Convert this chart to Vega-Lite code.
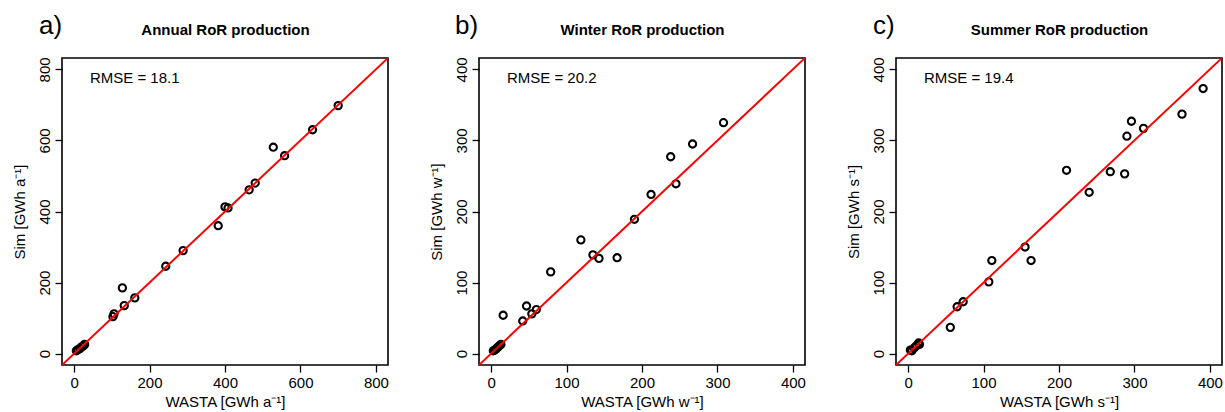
{
  "$schema": "https://vega.github.io/schema/vega-lite/v6.json",
  "background": "white",
  "padding": {"left": 11, "top": 12, "right": 0, "bottom": 0},
  "spacing": 38,
  "config": {
    "font": "Liberation Sans",
    "view": {"stroke": "black", "strokeWidth": 1.6},
    "axis": {"labelFont": "Liberation Sans", "titleFont": "Liberation Sans", "labelFontSize": 15, "titleFontSize": 15, "titleFontWeight": "normal", "labelColor": "black", "titleColor": "black", "tickColor": "black", "tickSize": 7, "tickWidth": 1.3, "domain": false, "grid": false, "labelPadding": 3},
    "axisBottom": {"titlePadding": 4},
    "axisLeft": {"labelAngle": -90, "titlePadding": 10},
    "title": {"font": "Liberation Sans", "color": "black"}
  },
  "hconcat": [
    {
      "width": 326, "height": 307,
      "title": {"text": "a)", "anchor": "start", "frame": "bounds", "fontSize": 26, "fontWeight": "normal", "dx": 27, "dy": 21},
      "resolve": {"axis": {"x": "independent", "y": "independent"}},
      "layer": [
        {
          "data": {"values": [
            {"wasta": 6, "sim": 8}, {"wasta": 10, "sim": 11}, {"wasta": 15, "sim": 14}, {"wasta": 20, "sim": 19}, {"wasta": 25, "sim": 22}, {"wasta": 28, "sim": 26},
            {"wasta": 103, "sim": 104}, {"wasta": 106, "sim": 112}, {"wasta": 128, "sim": 185}, {"wasta": 133, "sim": 135}, {"wasta": 161, "sim": 157},
            {"wasta": 243, "sim": 246}, {"wasta": 289, "sim": 290}, {"wasta": 382, "sim": 360}, {"wasta": 400, "sim": 413}, {"wasta": 408, "sim": 410},
            {"wasta": 464, "sim": 461}, {"wasta": 480, "sim": 480}, {"wasta": 528, "sim": 581}, {"wasta": 558, "sim": 557}, {"wasta": 632, "sim": 630}, {"wasta": 700, "sim": 698}
          ]},
          "mark": {"type": "point", "shape": "circle", "filled": false, "stroke": "black", "strokeWidth": 2.1, "size": 52, "opacity": 1},
          "encoding": {
            "x": {"field": "wasta", "type": "quantitative", "scale": {"domain": [-32, 832], "nice": false, "zero": false}, "axis": {"values": [0, 200, 400, 600, 800], "title": "WASTA [GWh a⁻¹]"}},
            "y": {"field": "sim", "type": "quantitative", "scale": {"domain": [-32, 832], "nice": false, "zero": false}, "axis": {"values": [0, 200, 400, 600, 800], "title": "Sim [GWh a⁻¹]"}}
          }
        },
        {
          "data": {"values": [{"lo": -100, "hi": 1000}]},
          "mark": {"type": "rule", "color": "#ff0000", "strokeWidth": 2, "clip": true},
          "encoding": {
            "x": {"field": "lo", "type": "quantitative", "scale": {"domain": [-32, 832], "nice": false, "zero": false}, "axis": {"orient": "top", "labels": false, "ticks": false, "domain": false, "title": "Annual RoR production", "titleFontWeight": "bold", "titleFontSize": 15, "titlePadding": 21}},
            "y": {"field": "lo", "type": "quantitative", "scale": {"domain": [-32, 832], "nice": false, "zero": false}, "axis": null},
            "x2": {"field": "hi"},
            "y2": {"field": "hi"}
          }
        },
        {
          "data": {"values": [{"tx": 42, "ty": 777, "label": "RMSE = 18.1"}]},
          "mark": {"type": "text", "align": "left", "baseline": "middle", "fontSize": 15, "color": "black", "font": "Liberation Sans"},
          "encoding": {
            "x": {"field": "tx", "type": "quantitative", "scale": {"domain": [-32, 832], "nice": false, "zero": false}, "axis": null},
            "y": {"field": "ty", "type": "quantitative", "scale": {"domain": [-32, 832], "nice": false, "zero": false}, "axis": null},
            "text": {"field": "label"}
          }
        }
      ]
    },
    {
      "width": 326, "height": 307,
      "title": {"text": "b)", "anchor": "start", "frame": "bounds", "fontSize": 26, "fontWeight": "normal", "dx": 26, "dy": 21},
      "resolve": {"axis": {"x": "independent", "y": "independent"}},
      "layer": [
        {
          "data": {"values": [
            {"wasta": 3, "sim": 4}, {"wasta": 5, "sim": 5}, {"wasta": 7, "sim": 7}, {"wasta": 9, "sim": 9}, {"wasta": 11, "sim": 11}, {"wasta": 13, "sim": 13},
            {"wasta": 16, "sim": 54}, {"wasta": 42, "sim": 46}, {"wasta": 47, "sim": 67}, {"wasta": 54, "sim": 56}, {"wasta": 60, "sim": 62},
            {"wasta": 79, "sim": 115}, {"wasta": 119, "sim": 160}, {"wasta": 135, "sim": 139}, {"wasta": 143, "sim": 134}, {"wasta": 167, "sim": 135},
            {"wasta": 190, "sim": 189}, {"wasta": 212, "sim": 224}, {"wasta": 238, "sim": 277}, {"wasta": 245, "sim": 239}, {"wasta": 267, "sim": 295}, {"wasta": 308, "sim": 325}
          ]},
          "mark": {"type": "point", "shape": "circle", "filled": false, "stroke": "black", "strokeWidth": 2.1, "size": 52, "opacity": 1},
          "encoding": {
            "x": {"field": "wasta", "type": "quantitative", "scale": {"domain": [-16, 416], "nice": false, "zero": false}, "axis": {"values": [0, 100, 200, 300, 400], "title": "WASTA [GWh w⁻¹]"}},
            "y": {"field": "sim", "type": "quantitative", "scale": {"domain": [-16, 416], "nice": false, "zero": false}, "axis": {"values": [0, 100, 200, 300, 400], "title": "Sim [GWh w⁻¹]"}}
          }
        },
        {
          "data": {"values": [{"lo": -100, "hi": 1000}]},
          "mark": {"type": "rule", "color": "#ff0000", "strokeWidth": 2, "clip": true},
          "encoding": {
            "x": {"field": "lo", "type": "quantitative", "scale": {"domain": [-16, 416], "nice": false, "zero": false}, "axis": {"orient": "top", "labels": false, "ticks": false, "domain": false, "title": "Winter RoR production", "titleFontWeight": "bold", "titleFontSize": 15, "titlePadding": 21}},
            "y": {"field": "lo", "type": "quantitative", "scale": {"domain": [-16, 416], "nice": false, "zero": false}, "axis": null},
            "x2": {"field": "hi"},
            "y2": {"field": "hi"}
          }
        },
        {
          "data": {"values": [{"tx": 21, "ty": 388.5, "label": "RMSE = 20.2"}]},
          "mark": {"type": "text", "align": "left", "baseline": "middle", "fontSize": 15, "color": "black", "font": "Liberation Sans"},
          "encoding": {
            "x": {"field": "tx", "type": "quantitative", "scale": {"domain": [-16, 416], "nice": false, "zero": false}, "axis": null},
            "y": {"field": "ty", "type": "quantitative", "scale": {"domain": [-16, 416], "nice": false, "zero": false}, "axis": null},
            "text": {"field": "label"}
          }
        }
      ]
    },
    {
      "width": 326, "height": 307,
      "title": {"text": "c)", "anchor": "start", "frame": "bounds", "fontSize": 26, "fontWeight": "normal", "dx": 27, "dy": 21},
      "resolve": {"axis": {"x": "independent", "y": "independent"}},
      "layer": [
        {
          "data": {"values": [
            {"wasta": 3, "sim": 5}, {"wasta": 5, "sim": 4}, {"wasta": 8, "sim": 8}, {"wasta": 11, "sim": 11}, {"wasta": 14, "sim": 15}, {"wasta": 15, "sim": 13},
            {"wasta": 56, "sim": 37}, {"wasta": 65, "sim": 66}, {"wasta": 73, "sim": 73}, {"wasta": 107, "sim": 101}, {"wasta": 111, "sim": 131},
            {"wasta": 155, "sim": 150}, {"wasta": 163, "sim": 131}, {"wasta": 210, "sim": 258}, {"wasta": 240, "sim": 227}, {"wasta": 268, "sim": 256},
            {"wasta": 287, "sim": 253}, {"wasta": 290, "sim": 306}, {"wasta": 296, "sim": 327}, {"wasta": 312, "sim": 317}, {"wasta": 363, "sim": 337}, {"wasta": 391, "sim": 373}
          ]},
          "mark": {"type": "point", "shape": "circle", "filled": false, "stroke": "black", "strokeWidth": 2.1, "size": 52, "opacity": 1},
          "encoding": {
            "x": {"field": "wasta", "type": "quantitative", "scale": {"domain": [-16, 416], "nice": false, "zero": false}, "axis": {"values": [0, 100, 200, 300, 400], "title": "WASTA [GWh s⁻¹]"}},
            "y": {"field": "sim", "type": "quantitative", "scale": {"domain": [-16, 416], "nice": false, "zero": false}, "axis": {"values": [0, 100, 200, 300, 400], "title": "Sim [GWh s⁻¹]"}}
          }
        },
        {
          "data": {"values": [{"lo": -100, "hi": 1000}]},
          "mark": {"type": "rule", "color": "#ff0000", "strokeWidth": 2, "clip": true},
          "encoding": {
            "x": {"field": "lo", "type": "quantitative", "scale": {"domain": [-16, 416], "nice": false, "zero": false}, "axis": {"orient": "top", "labels": false, "ticks": false, "domain": false, "title": "Summer RoR production", "titleFontWeight": "bold", "titleFontSize": 15, "titlePadding": 21}},
            "y": {"field": "lo", "type": "quantitative", "scale": {"domain": [-16, 416], "nice": false, "zero": false}, "axis": null},
            "x2": {"field": "hi"},
            "y2": {"field": "hi"}
          }
        },
        {
          "data": {"values": [{"tx": 21, "ty": 388.5, "label": "RMSE = 19.4"}]},
          "mark": {"type": "text", "align": "left", "baseline": "middle", "fontSize": 15, "color": "black", "font": "Liberation Sans"},
          "encoding": {
            "x": {"field": "tx", "type": "quantitative", "scale": {"domain": [-16, 416], "nice": false, "zero": false}, "axis": null},
            "y": {"field": "ty", "type": "quantitative", "scale": {"domain": [-16, 416], "nice": false, "zero": false}, "axis": null},
            "text": {"field": "label"}
          }
        }
      ]
    }
  ]
}
